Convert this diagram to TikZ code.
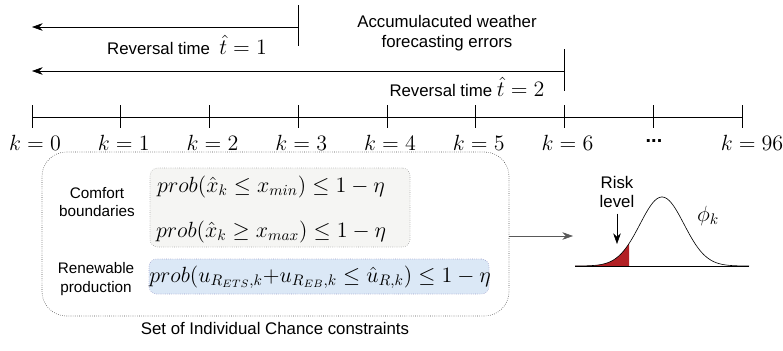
\documentclass[tikz,border=0pt]{standalone}
\usepackage{fontspec}
\setmainfont{Liberation Sans}
\usetikzlibrary{arrows.meta}
\definecolor{riskred}{RGB}{178,32,36}
\definecolor{boxblue}{RGB}{219,232,246}
\definecolor{boxgray}{RGB}{245,245,243}
\tikzset{
	txt/.style = {font=\fontsize{11}{13}\selectfont},
	smalltxt/.style = {font=\fontsize{10}{12}\selectfont, align=center},
	klabel/.style = {font=\fontsize{15}{17}\selectfont},
	formula/.style = {font=\fontsize{14}{16}\selectfont},
	revarrow/.style = {-{Stealth[length=7pt, width=5pt]}},
	dotbox/.style = {draw=gray!60!black, densely dotted, rounded corners=5pt}
}
\begin{document}
\begin{tikzpicture} [x = 0.023cm, y = -0.023cm]
	\useasboundingbox (0,0) rectangle (783,350);
	% reversal times
	\coordinate (r1) at (298,27);
	\coordinate (r1end) at (32,27);
	\coordinate (r2) at (564,71);
	\coordinate (r2end) at (32,71);
	\draw (298,5) -- (298,46);
	\draw (564,49) -- (564,91);
	\draw [revarrow] (r1) -- (r1end);
	\draw [revarrow] (r2) -- (r2end);
	\node (rev1) [txt] at (187,45) {Reversal time \ {\fontsize{14}{16}\selectfont$\hat{t} = 1$}};
	\node (rev2) [txt] at (467,87) {Reversal time {\fontsize{14}{16}\selectfont$\hat{t} = 2$}};
	\node (acc) [txt, align=center] at (447,33) {Accumulacuted weather\\forecasting errors};
	% time axis
	\draw (32,117) -- (742,117);
	\foreach \i in {0,...,8}
		\draw (32+\i*88.75,105) -- (32+\i*88.75,128);
	\foreach \i/\k in {0/0,1/1,2/2,3/3,4/4,5/5,6/6}
		\node (k\i) [klabel] at (35+\i*88.75,143) {$k = \k$};
	\node (k8) [klabel] at (752,143) {$k = 96$};
	\node (k7) [klabel, font=\fontsize{13}{15}\selectfont\bfseries] at (654,141) {...};
	% chance constraints
	\node (ccbox) [dotbox, rounded corners=16pt, minimum width={467*0.023cm}, minimum height={164*0.023cm}] at (275.5,234) {};
	\node (comfbox) [dotbox, draw=gray!70, fill=boxgray, minimum width={260*0.023cm}, minimum height={79*0.023cm}] at (280,207.5) {};
	\node (renbox) [dotbox, draw=blue!30!gray!60, fill=boxblue, minimum width={340*0.023cm}, minimum height={35*0.023cm}] at (319,276.5) {};
	\node (comf) [smalltxt] at (97,202) {Comfort\\boundaries};
	\node (ren) [smalltxt] at (96,279) {Renewable\\production};
	\node (f1) [formula] at (271,187) {$prob(\hat{x}_k \leq x_{min}) \leq 1 - \eta$};
	\node (f2) [formula] at (271,232) {$prob(\hat{x}_k \geq x_{max}) \leq 1 - \eta$};
	\node (f3) [formula] at (320,277) {$prob(u_{R_{ETS},k}{+}u_{R_{EB},k} \leq \hat{u}_{R,k}) \leq 1 - \eta$};
	\node (set) [txt] at (275,328) {Set of Individual Chance constraints};
	% risk distribution
	\coordinate (bell) at (573,236);
	\draw [-{Stealth[length=7pt, width=5pt]}, draw=gray!70!black] (ccbox.east |- bell) -- (bell);
	\fill [riskred] plot [domain=575:629, samples=40] (\x, {266-69*exp(-((\x-662)/22)^2/2)}) -- (629,266) -- cycle;
	\draw plot [domain=575:749, samples=120] (\x, {266-69*exp(-((\x-662)/22)^2/2)});
	\draw (575,266) -- (749,266);
	\node (risk) [txt, align=center] at (617,192) {Risk\\level};
	\draw [-{Stealth[length=7pt, width=5pt]}] (risk.south) -- (617,244);
	\node (phi) [formula] at (708,216) {$\phi_k$};
\end{tikzpicture}
\end{document}
